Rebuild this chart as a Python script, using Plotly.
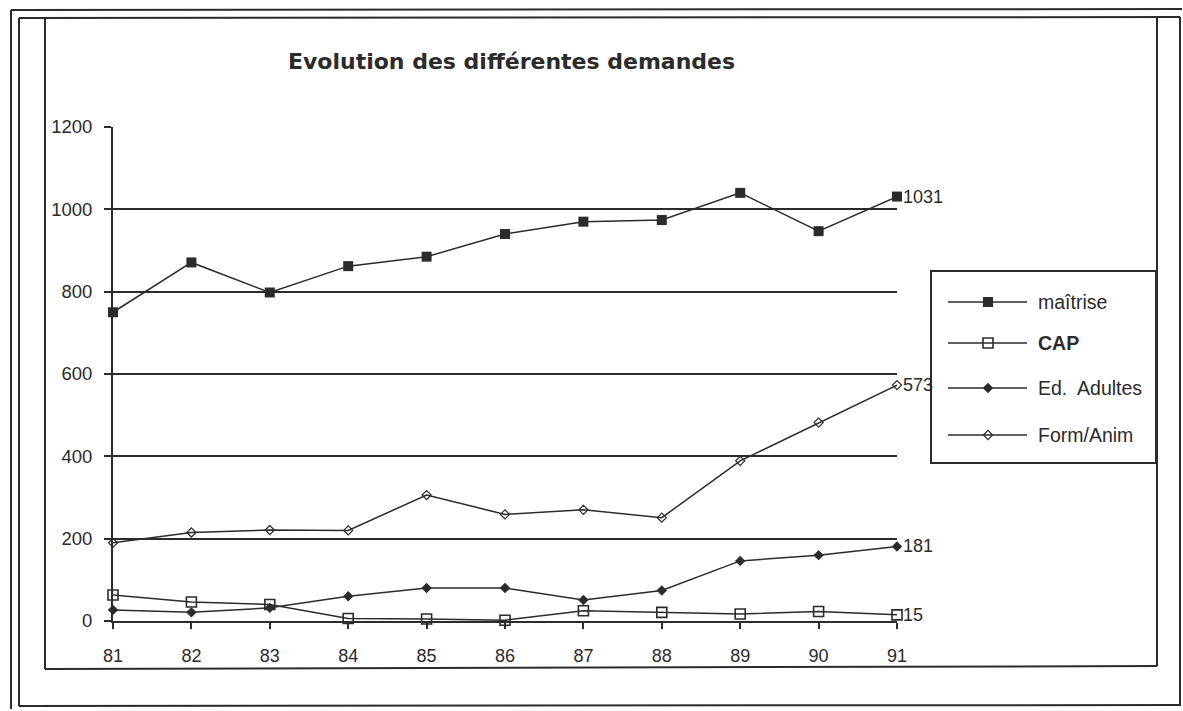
import plotly.graph_objects as go

# Années (axe des abscisses)
annees = [81, 82, 83, 84, 85, 86, 87, 88, 89, 90, 91]
etiquettes_annees = ["81", "82", "83", "84", "85", "86", "87", "88", "89", "90", "91"]

# Nombre de demandes par filière
maitrise = [750, 871, 798, 862, 885, 940, 970, 974, 1040, 947, 1031]
cap = [63, 46, 40, 6, 5, 2, 25, 21, 17, 23, 15]
ed_adultes = [27, 21, 32, 60, 80, 80, 51, 74, 146, 160, 181]
form_anim = [190, 215, 221, 220, 306, 259, 270, 251, 389, 482, 573]

graduations_y = [0, 200, 400, 600, 800, 1000, 1200]

W, H = 1183, 711
INK = "#2b2b2b"
FONT = "Liberation Sans, Arial, Helvetica, sans-serif"


def px(x):
    return x / W


def py(y):
    return 1 - y / H


series = [
    ("maîtrise", maitrise, dict(symbol="square", size=10, color=INK), False),
    ("CAP", cap, dict(symbol="square-open", size=10, color=INK, line=dict(width=1.6, color=INK)), True),
    ("Ed.  Adultes", ed_adultes, dict(symbol="diamond", size=8, color=INK), False),
    ("Form/Anim", form_anim, dict(symbol="diamond-open", size=7, color=INK, line=dict(width=1.2, color=INK)), False),
]

fig = go.Figure()

for nom, valeurs, marqueur, _ in series:
    fig.add_trace(go.Scatter(
        x=annees, y=valeurs, name=nom, mode="lines+markers",
        line=dict(color=INK, width=1.5),
        marker=marqueur, cliponaxis=False, showlegend=False,
    ))

# Valeurs de la dernière année
annotations = []
for nom, valeurs, _, _ in series:
    annotations.append(dict(
        x=annees[-1], y=valeurs[-1], xref="x", yref="y", text=str(valeurs[-1]),
        showarrow=False, xanchor="left", yanchor="middle", xshift=4,
        font=dict(family=FONT, size=18, color=INK),
    ))

# Titre
annotations.append(dict(
    x=px(512), y=py(62), xref="paper", yref="paper",
    text="<b>Evolution des différentes demandes</b>", showarrow=False,
    xanchor="center", yanchor="middle",
    font=dict(family="DejaVu Sans, Verdana, sans-serif", size=22, color=INK),
))

# Légende dessinée dans un cadre à droite
leg_rows = [302, 343, 388, 435]
shapes = []
for (nom, _, marqueur, gras), yr in zip(series, leg_rows):
    shapes.append(dict(type="line", xref="paper", yref="paper",
                       x0=px(948), x1=px(1027), y0=py(yr), y1=py(yr),
                       line=dict(color=INK, width=1.5)))
    fig.add_trace(go.Scatter(
        x=[988], y=[yr], xaxis="x2", yaxis="y2", mode="markers",
        marker=marqueur, showlegend=False, hoverinfo="skip", cliponaxis=False,
    ))
    annotations.append(dict(
        x=px(1036), y=py(yr), xref="paper", yref="paper",
        text=f"<b>{nom}</b>" if gras else nom, showarrow=False,
        xanchor="left", yanchor="middle",
        font=dict(family=FONT, size=19.5, color=INK),
    ))

shapes.append(dict(type="rect", xref="paper", yref="paper",
                   x0=px(931), x1=px(1156), y0=py(271), y1=py(463),
                   line=dict(color=INK, width=2), fillcolor="rgba(0,0,0,0)"))

# Cadres
def seg(x0, y0, x1, y1, w=2):
    return dict(type="line", xref="paper", yref="paper",
                x0=px(x0), y0=py(y0), x1=px(x1), y1=py(y1),
                line=dict(color=INK, width=w))

shapes += [
    seg(11, 10, 11, 709),
    seg(11, 10, 1182, 9),
    seg(19, 18, 19, 706),
    seg(19, 18, 1180, 17),
    seg(1180, 17, 1180, 706),
    seg(19, 706, 1180, 705),
    seg(45, 18, 45, 669),
    seg(45, 669, 1157, 666),
    seg(1157, 17, 1157, 666),
]

fig.update_layout(
    width=W, height=H,
    margin=dict(l=0, r=0, t=0, b=0, autoexpand=False),
    paper_bgcolor="white", plot_bgcolor="rgba(0,0,0,0)",
    font=dict(family=FONT, color=INK),
    xaxis=dict(
        domain=[px(113), px(897)], range=[81, 91],
        tickvals=annees, ticktext=etiquettes_annees,
        ticks="outside", ticklen=6, tickwidth=1.5, tickcolor=INK,
        showline=True, linecolor=INK, linewidth=2,
        showgrid=False, zeroline=False, automargin=False,
        tickfont=dict(family=FONT, size=18, color=INK),
        ticklabelstandoff=11,
    ),
    yaxis=dict(
        domain=[py(621), py(127)], range=[0, 1200],
        tickvals=graduations_y,
        ticks="outside", ticklen=7, tickwidth=1.5, tickcolor=INK,
        showline=True, linecolor=INK, linewidth=2,
        showgrid=True, gridcolor=INK, gridwidth=1.8, zeroline=False, automargin=False,
        tickfont=dict(family=FONT, size=18.5, color=INK),
        ticklabelstandoff=8,
    ),
    xaxis2=dict(domain=[0, 1], range=[0, W], visible=False, anchor="y2"),
    yaxis2=dict(domain=[0, 1], range=[H, 0], visible=False, anchor="x2"),
    shapes=shapes,
    annotations=annotations,
    showlegend=False,
)

fig.write_html("out.html")
